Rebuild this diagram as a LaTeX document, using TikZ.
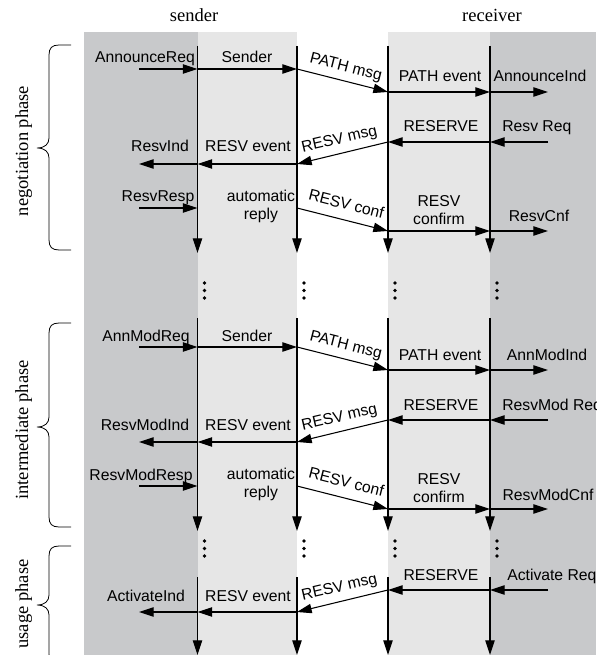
\documentclass[tikz,border=0pt]{standalone}
\usepackage{fontspec}
\setmainfont{Liberation Serif}
\setsansfont{Liberation Sans}
\usetikzlibrary{arrows.meta}

\definecolor{appgray}{RGB}{200,201,203}
\definecolor{rsvpgray}{RGB}{230,230,230}

% curly brace of a phase: top y, tip y, bottom y
\newcommand\phasebrace[3]{%
  \draw[bracestyle] (71,#1) -- (59,#1) .. controls (52,#1) and (49,#1+3) .. (49,#1+10)
    -- (49,#2-10) .. controls (49,#2-4) and (45,#2) .. (37,#2)
    .. controls (45,#2) and (49,#2+4) .. (49,#2+10)
    -- (49,#3-10) .. controls (49,#3-3) and (52,#3) .. (59,#3) -- (71,#3);%
}

\begin{document}
\begin{tikzpicture}[x=0.75pt,y=-0.75pt,
  msg/.style={-{Triangle[length=11pt,width=7pt]}, line width=0.8pt},
  life/.style={-{Triangle[length=11pt,width=7pt]}, line width=0.8pt},
  bracestyle/.style={line width=0.6pt},
  lbl/.style={font={\sffamily\fontsize{11.8pt}{17pt}\selectfont}, inner sep=0pt, anchor=base},
  lbl2/.style={font={\sffamily\fontsize{11.8pt}{13.5pt}\selectfont}, inner sep=0pt, align=center, anchor=center},
  role/.style={font={\rmfamily\fontsize{13.9pt}{16pt}\selectfont}, inner sep=0pt, anchor=base},
  phase/.style={role, rotate=90}]

\useasboundingbox (0,0) rectangle (596,655);
\clip (0,0) rectangle (596,655);

% lanes
\fill[appgray]  (84,32)  rectangle (198,655);
\fill[rsvpgray] (198,32) rectangle (297,655);
\fill[rsvpgray] (388,32) rectangle (490,655);
\fill[appgray]  (490,32) rectangle (596,655);

% lane positions
\coordinate (A) at (139,0);
\coordinate (B) at (197.5,0);
\coordinate (C) at (297,0);
\coordinate (D) at (388,0);
\coordinate (E) at (490,0);
\coordinate (F) at (548,0);

% lifeline segments
\coordinate (t1) at (0,46);  \coordinate (b1) at (0,253);
\coordinate (t2) at (0,318); \coordinate (b2) at (0,531);
\coordinate (t3) at (0,577); \coordinate (b3) at (0,655);

% message rows
\coordinate (y11) at (0,69);  \coordinate (y12) at (0,92);
\coordinate (y13) at (0,142); \coordinate (y14) at (0,164);
\coordinate (y15) at (0,208); \coordinate (y16) at (0,231);
\coordinate (y21) at (0,347); \coordinate (y22) at (0,370);
\coordinate (y23) at (0,420); \coordinate (y24) at (0,442);
\coordinate (y25) at (0,486); \coordinate (y26) at (0,509);
\coordinate (y33) at (0,590); \coordinate (y34) at (0,612);

\foreach \l in {B,C,D,E}{
  \draw[life] (\l |- t1) -- (\l |- b1);
  \draw[life] (\l |- t2) -- (\l |- b2);
  \draw[life] (\l |- t3) -- (\l |- b3);
  \foreach \yy in {283,290.5,298,541,548.5,556}
    \fill (\l) ++(7,\yy) circle[radius=1.4pt];
}

% role titles
\node[role] (sender) at (194,22) {sender};
\node[role] (receiver) at (492,22) {receiver};

% phases
\phasebrace{45}{148}{250}
\phasebrace{323}{427}{527}
\phasebrace{546}{605}{664}
\node[phase] (negphase) at (28,151) {negotiation phase};
\node[phase] (intphase) at (28,430) {intermediate phase};
\node[phase] (usephase) at (28,604) {usage phase};

% ---- negotiation ----
\draw[msg] (A |- y11) -- (B |- y11);
\draw[msg] (B |- y11) -- (C |- y11);
\draw[msg] (C |- y11) -- (D |- y12);
\draw[msg] (D |- y12) -- (E |- y12);
\draw[msg] (E |- y12) -- (F |- y12);
\draw[msg] (F |- y13) -- (E |- y13);
\draw[msg] (E |- y13) -- (D |- y13);
\draw[msg] (D |- y13) -- (C |- y14);
\draw[msg] (C |- y14) -- (B |- y14);
\draw[msg] (B |- y14) -- (A |- y14);
\draw[msg] (A |- y15) -- (B |- y15);
\draw[msg] (C |- y15) -- (D |- y16);
\draw[msg] (D |- y16) -- (E |- y16);
\draw[msg] (E |- y16) -- (F |- y16);

\node[lbl] (n1) at (145,63) {AnnounceReq};
\node[lbl] (n2) at (247,63) {Sender};
\node[lbl, rotate=-14.2] (n3) at (344.8,71.3) {PATH msg};
\node[lbl] (n4) at (440,82) {PATH event};
\node[lbl] (n5) at (540,82) {AnnounceInd};
\node[lbl] (n6) at (441,132) {RESERVE};
\node[lbl, anchor=base west] (n7) at (502,132) {Resv Req};
\node[lbl, rotate=13] (n8) at (340.4,143.8) {RESV msg};
\node[lbl] (n9) at (248,152) {RESV event};
\node[lbl] (n10) at (160,152) {ResvInd};
\node[lbl] (n11) at (158,202) {ResvResp};
\node[lbl2] (n12) at (261,206) {automatic\\reply};
\node[lbl, rotate=-14.2] (n13) at (345.1,209.3) {RESV conf};
\node[lbl2] (n14) at (439,210.5) {RESV\\confirm};
\node[lbl] (n15) at (539,222) {ResvCnf};

% ---- intermediate ----
\draw[msg] (A |- y21) -- (B |- y21);
\draw[msg] (B |- y21) -- (C |- y21);
\draw[msg] (C |- y21) -- (D |- y22);
\draw[msg] (D |- y22) -- (E |- y22);
\draw[msg] (E |- y22) -- (F |- y22);
\draw[msg] (F |- y23) -- (E |- y23);
\draw[msg] (E |- y23) -- (D |- y23);
\draw[msg] (D |- y23) -- (C |- y24);
\draw[msg] (C |- y24) -- (B |- y24);
\draw[msg] (B |- y24) -- (A |- y24);
\draw[msg] (A |- y25) -- (B |- y25);
\draw[msg] (C |- y25) -- (D |- y26);
\draw[msg] (D |- y26) -- (E |- y26);
\draw[msg] (E |- y26) -- (F |- y26);

\node[lbl] (m1) at (146,341) {AnnModReq};
\node[lbl] (m2) at (247,341) {Sender};
\node[lbl, rotate=-14.2] (m3) at (344.8,349.3) {PATH msg};
\node[lbl] (m4) at (440,360) {PATH event};
\node[lbl] (m5) at (547,360) {AnnModInd};
\node[lbl] (m6) at (441,410) {RESERVE};
\node[lbl, anchor=base west] (m7) at (502,410) {ResvMod Req};
\node[lbl, rotate=13] (m8) at (340.4,421.8) {RESV msg};
\node[lbl] (m9) at (248,430) {RESV event};
\node[lbl] (m10) at (145,430) {ResvModInd};
\node[lbl] (m11) at (141,480) {ResvModResp};
\node[lbl2] (m12) at (261,484) {automatic\\reply};
\node[lbl, rotate=-14.2] (m13) at (345.1,487.3) {RESV conf};
\node[lbl2] (m14) at (439,488.5) {RESV\\confirm};
\node[lbl] (m15) at (548,500) {ResvModCnf};

% ---- usage ----
\draw[msg] (F |- y33) -- (E |- y33);
\draw[msg] (E |- y33) -- (D |- y33);
\draw[msg] (D |- y33) -- (C |- y34);
\draw[msg] (C |- y34) -- (B |- y34);
\draw[msg] (B |- y34) -- (A |- y34);

\node[lbl] (u6) at (441,580) {RESERVE};
\node[lbl, anchor=base west] (u7) at (507,580) {Activate Req};
\node[lbl, rotate=13] (u8) at (340.4,591.8) {RESV msg};
\node[lbl] (u9) at (248,601) {RESV event};
\node[lbl] (u10) at (146,601) {ActivateInd};
\end{tikzpicture}
\end{document}
